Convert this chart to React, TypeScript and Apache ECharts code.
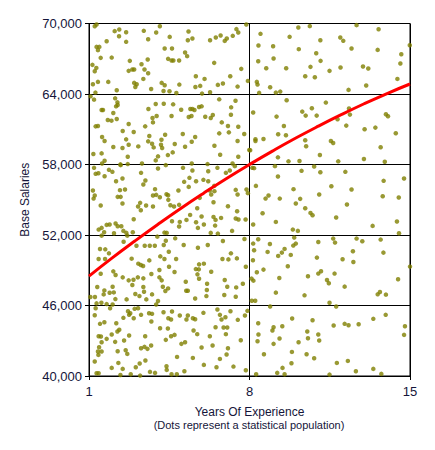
import React, { useEffect, useRef } from "react";
import * as echarts from "echarts";

// Axis ticks
const xTicks = [1, 8, 15];
const yTicks = [40000, 46000, 52000, 58000, 64000, 70000];

// Trend curve
const trendX = [1, 2, 3, 4, 5, 6, 7, 8, 9, 10, 11, 12, 13, 14, 15];
const trendY = [48500, 50030, 51490, 52900, 54260, 55560, 56810, 58000, 59140, 60230, 61260, 62240, 63170, 64040, 64850];

// Population dots: [years, salary], grouped by region of the plot
const dotsLeft70 = [
  [1.25,69770],[1.33,69915],[2.12,69350],[2.32,69490],[2.62,69250],[2.31,68920],[2.62,68440],[1.77,68495],[3.39,69375],[3.58,68665],[3.93,69230],[4.09,69770],[4.52,68860],[5.34,69320],[5.51,68720],[5.31,68580],[6.28,68580],[6.53,68810],[6.74,68980],[6.92,68520],[7.01,68720],[7.27,68950],[7.43,69520],[7.51,69230],[7.86,69915],[1.33,68010],[1.45,68010],[1.39,67730],[1.51,67075],[1.99,67100],[2.78,66820],[3.29,66535],[2.89,66080],[2.97,66080],[2.73,65970],[3.42,66080],[3.58,65770],[3.56,66930],[3.37,65285],[4.30,67870],[4.62,67870],[4.45,66990],[4.60,66850],[4.68,66850],[4.93,66850],[5.19,67530],[5.28,67220],[6.46,66650],[7.64,66140],[1.15,66480],[1.32,66220],[1.25,65940],[1.17,64830],[1.39,65030],[1.84,65030],[2.97,64945],[3.08,64830],[3.02,64600],[2.21,64320],[3.71,64430],[4.17,64945],[4.30,64750],[4.25,64260],[4.51,64235],[4.81,64090],[4.94,64800],[5.66,65510],[6.04,65285],[5.64,64600],[5.85,64690],[6.62,64775],[6.84,64890],[7.16,65510],[7.48,64630],[7.93,65115],[6.28,64150],[5.93,64035],[1.28,64120]
];
const dotsLeft64 = [
  [1.07,63800],[1.22,63520],[2.14,63630],[2.24,63290],[2.18,62950],[2.25,63060],[1.55,62640],[1.61,62640],[2.06,62380],[1.82,61785],[1.98,61730],[2.21,61870],[1.29,61245],[1.39,61275],[2.73,61445],[2.47,60850],[2.95,60760],[2.62,60140],[2.73,59680],[3.15,59540],[2.46,59400],[2.06,59485],[1.57,60340],[1.68,60000],[1.19,58890],[1.55,58945],[1.68,58320],[1.57,58090],[2.69,58660],[2.37,58010],[2.69,58035],[3.31,58090],[3.59,62720],[3.91,63150],[4.26,63175],[4.67,63120],[5.02,62665],[5.42,62720],[5.51,62720],[5.60,62640],[5.80,62890],[5.91,62950],[5.35,62040],[5.47,62125],[6.07,62070],[6.31,61955],[6.40,62210],[6.68,63545],[7.39,63430],[7.20,62865],[7.19,62240],[6.79,61585],[7.06,61275],[7.51,61215],[7.77,60590],[7.10,60735],[6.68,60650],[6.47,59600],[6.72,58830],[7.48,60000],[7.51,58660],[7.26,58090],[7.99,59230],[6.17,58035],[3.77,61955],[3.95,62125],[3.79,61585],[3.45,61245],[4.60,62125],[3.63,60420],[4.32,60535],[4.16,60110],[3.75,59770],[3.58,59970],[3.82,59455],[4.14,59680],[4.19,59400],[4.74,59740],[5.09,60590],[5.19,59510],[5.63,60340],[5.48,59940],[4.44,58800],[4.65,59030],[4.01,58690],[3.91,58350],[5.48,58090]
];
const dotsLeft58 = [
  [1.22,57715],[1.29,57205],[1.41,57260],[1.68,57005],[1.87,57545],[2.02,57375],[2.38,57945],[3.27,57290],[4.01,57660],[4.35,57945],[2.18,56580],[2.46,56810],[3.46,56640],[3.37,56295],[1.17,55785],[1.25,55360],[1.20,55100],[2.35,55815],[2.57,55870],[2.25,55245],[2.38,55245],[2.46,54680],[1.51,54505],[3.23,54735],[3.14,54420],[3.26,54110],[3.49,54505],[3.79,54420],[3.88,55900],[3.79,55360],[3.93,55415],[4.09,55215],[4.38,55470],[4.45,55385],[4.46,54990],[4.55,54535],[4.90,55785],[4.71,54420],[4.93,54565],[5.15,56525],[5.35,56095],[5.38,56865],[5.67,56580],[5.99,56695],[6.20,56580],[5.10,57715],[5.51,57490],[6.20,57430],[6.60,57715],[6.97,57290],[7.14,57490],[7.36,57860],[6.27,55785],[6.46,56180],[6.33,55445],[6.43,54790],[5.83,55160],[6.47,55730],[7.40,55840],[7.48,55445],[7.87,55870],[7.93,55560],[7.46,54025],[7.40,53400],[7.52,53315],[7.83,53315],[7.06,54450],[5.41,53710],[5.72,54280],[6.43,53540],[6.52,53285],[6.76,53455],[5.91,53570],[5.67,53090],[5.75,52605],[6.01,52890],[6.50,52800],[6.31,52180],[6.62,52120],[7.24,52350],[4.62,53170],[4.96,53115],[5.25,53285],[4.93,52720],[4.29,52205],[4.39,52180],[2.95,53345],[1.55,52605],[1.42,52460],[1.66,52235],[1.77,52860],[1.90,52890],[2.16,52975],[2.25,52750],[2.41,52750],[2.09,52150],[2.50,52350],[2.63,52180],[2.91,52235]
];
const dotsLeft52 = [
  [1.55,51945],[2.67,51945],[3.98,51860],[4.76,51715],[4.35,51515],[5.13,51150],[5.75,50920],[6.18,51150],[6.84,51490],[7.78,51660],[1.48,50810],[1.71,50780],[1.87,50440],[1.42,49955],[1.70,49955],[2.51,51430],[3.07,51090],[3.43,51090],[3.65,51090],[3.87,51090],[4.26,51150],[2.86,49985],[3.63,49840],[4.11,50180],[4.29,49955],[4.48,50580],[4.80,49955],[3.15,49560],[3.26,49445],[3.36,49360],[4.07,49020],[4.49,49300],[4.73,48850],[5.80,49500],[6.01,49560],[5.66,49100],[5.79,49075],[6.33,48875],[5.73,48650],[5.80,48280],[6.15,47855],[6.14,47315],[6.12,46800],[5.63,46600],[1.51,48705],[2.06,48905],[2.16,48590],[2.47,48395],[2.73,48140],[2.94,48195],[3.13,48395],[2.89,47740],[3.37,48310],[3.72,48680],[4.07,48395],[4.17,48140],[4.22,47600],[4.45,47455],[4.33,47230],[3.37,47570],[3.40,47170],[1.36,47570],[1.67,47285],[1.64,46945],[2.03,47600],[1.90,47085],[2.08,47115],[2.15,46545],[1.26,46720],[1.06,46720],[1.33,46180],[1.54,46235],[1.77,46120],[2.03,46090],[2.64,46520],[3.02,46975],[3.20,46800],[3.50,46520],[3.75,46945],[4.01,46380],[3.93,46090],[5.22,48025],[5.24,47260],[5.31,47260],[6.82,49955],[7.08,49925],[7.45,50010],[7.19,50440],[7.84,49300],[7.71,47855],[6.92,48165],[7.42,47540],[7.03,47600],[7.40,46745],[6.90,46890]
];
const dotsLeft46 = [
  [1.29,45770],[1.92,45770],[2.70,45515],[2.80,45345],[2.75,45205],[2.99,45715],[3.14,45770],[3.62,45345],[3.75,45290],[4.25,45430],[4.62,45490],[4.46,44920],[4.58,44810],[4.96,45150],[5.31,45150],[5.25,44810],[5.53,44920],[5.63,44835],[5.99,45375],[6.60,45660],[6.71,45205],[6.78,44810],[6.95,45005],[7.17,45515],[7.49,44780],[7.80,45150],[7.91,45545],[1.25,45175],[1.48,44440],[1.67,44580],[2.19,44495],[2.50,44950],[2.95,44920],[3.27,45205],[3.72,44635],[1.42,43385],[1.52,43360],[1.55,42875],[1.77,43160],[1.99,43530],[2.24,43785],[2.32,43930],[2.14,42905],[2.53,43020],[2.75,43445],[3.45,43385],[4.10,44070],[4.44,44040],[4.35,43075],[4.58,43385],[4.73,43500],[5.03,42735],[5.19,42875],[5.56,43870],[5.72,43560],[6.27,43385],[6.52,44155],[6.87,44125],[7.03,44125],[6.97,43560],[7.62,43045],[6.39,42590],[5.91,42420],[7.06,42365],[7.00,41825],[6.71,41455],[1.44,42450],[1.39,42080],[1.55,42080],[1.41,41795],[2.25,42110],[2.60,42195],[2.67,41880],[3.27,42365],[3.42,42480],[3.55,42310],[3.71,42590],[4.84,41625],[5.53,41540],[1.25,41230],[1.99,40690],[2.28,41115],[2.47,40605],[3.04,40745],[3.21,41060],[3.46,41315],[3.66,40350],[3.88,40265],[4.38,40830],[4.39,40520],[4.60,40150],[4.83,40150],[5.16,40405],[6.01,40945],[6.56,40745],[7.30,40800],[7.84,40490],[1.33,40235],[1.42,40235],[2.37,40090],[2.82,40150],[3.23,40035]
];
const dotsRightTop = [
  [8.48,69120],[10.13,69660],[10.63,69775],[12.67,69860],[13.63,69515],[9.75,68865],[11.09,68580],[11.96,68810],[12.09,68525],[8.39,68125],[9.03,68070],[10.15,67815],[10.91,67470],[12.45,67870],[13.59,67755],[14.99,68155],[14.62,67385],[8.38,66790],[9.05,67020],[11.10,66820],[8.73,66195],[9.60,66195],[10.66,66310],[11.97,66250],[12.95,66335],[13.18,66165],[14.58,66590],[10.43,65515],[10.85,65430],[11.49,65970],[14.45,65285],[8.32,65030],[8.35,64800],[8.90,64575],[13.09,64720],[12.32,64350],[8.42,64095],[9.15,64120],[9.34,64205],[9.62,63470],[11.33,63270],[8.16,62420],[10.30,62500],[10.72,62785],[10.45,62160],[10.93,62160],[9.18,62075],[12.34,62760],[12.38,62245],[11.84,61850],[12.22,61310],[13.95,62275],[14.04,62105],[9.50,61280],[9.25,60570],[9.59,60485],[8.26,60145],[8.26,60000],[8.61,60175],[10.43,60060],[10.47,59550],[11.55,60005],[11.65,59835],[13.02,60995],[13.49,61140],[14.38,60655],[13.72,59465],[8.03,59210],[11.07,58810],[9.24,58610],[9.70,58270],[10.18,58300],[11.87,58270],[12.99,58470],[13.90,58240]
];
const dotsRightMid = [
  [8.12,57715],[8.20,57690],[9.11,57860],[10.27,57460],[10.82,57830],[11.09,57345],[12.18,57375],[9.24,56980],[8.28,56180],[9.92,55900],[11.57,56155],[12.45,55870],[13.85,56610],[14.74,56810],[8.83,55360],[8.70,55100],[9.32,55100],[10.21,55075],[11.04,55445],[10.02,54680],[10.43,54280],[10.66,53880],[10.75,53680],[12.25,54590],[13.81,55300],[14.51,55190],[8.57,53855],[11.78,53485],[8.16,52890],[9.15,53115],[9.89,52460],[10.11,52350],[13.37,52775],[14.43,53145],[14.52,52150],[8.38,51640],[9.95,51780],[8.16,51270],[8.89,51240],[10.02,51270],[9.91,51100],[11.00,51410],[11.65,51695],[11.73,51355],[12.67,51695],[12.92,51470],[13.72,51610],[13.84,50500],[8.20,50700],[8.79,50560],[9.53,50815],[9.41,50500],[9.25,50220],[9.80,50305],[10.94,50075],[12.06,49935],[12.51,50615],[12.53,49705],[8.15,49850],[8.61,49055],[8.32,48825],[9.67,49340],[9.30,48345],[10.55,48485],[11.00,48715],[11.12,48910],[11.71,48715],[11.38,48175],[11.46,47890],[12.15,47605],[15.00,49310],[14.48,48230],[8.09,48290],[8.17,48115],[9.15,47095],[10.40,46865],[13.59,46950],[13.69,47150],[13.95,46925],[11.49,46240],[8.10,46410],[8.25,46410]
];
const dotsRightLow = [
  [8.90,45915],[11.78,45915],[8.38,44495],[9.05,44155],[9.00,43870],[9.43,44240],[9.86,44890],[10.75,44750],[10.52,43785],[10.55,43215],[11.00,43530],[11.04,43020],[11.67,44295],[12.15,44440],[12.32,44325],[12.76,44410],[13.40,44865],[13.94,45205],[14.78,44240],[14.74,43500],[8.39,43530],[8.35,42960],[9.31,43190],[9.05,42735],[10.14,42875],[9.85,42050],[8.63,41855],[10.49,41855],[10.82,41515],[9.83,41085],[9.44,40690],[9.21,40265],[9.53,40150],[8.29,40150],[11.81,41115],[12.29,41285],[11.49,40120],[12.64,40405],[13.40,40605],[13.75,40180]
];

const FONT = "'Liberation Sans', Arial, sans-serif";
const TEXT = "#15153a";

export default function App() {
  const ref = useRef<HTMLDivElement>(null);
  useEffect(() => {
    if (!ref.current) return;
    const chart = echarts.init(ref.current, null, { renderer: "svg" });
    const dots = [
      ...dotsLeft70, ...dotsLeft64, ...dotsLeft58, ...dotsLeft52, ...dotsLeft46,
      ...dotsRightTop, ...dotsRightMid, ...dotsRightLow,
    ];
    const trend = trendX.map((x, i) => [x, trendY[i]]);
    chart.setOption({
      animation: false,
      backgroundColor: "#ffffff",
      grid: {
        left: 89, right: 25, top: 23.5, bottom: 74,
        show: true, borderColor: "#000", borderWidth: 1,
        containLabel: false, outerBoundsMode: "none",
      },
      xAxis: {
        type: "value", min: 1, max: 15,
        axisLine: { show: true, onZero: false, lineStyle: { color: "#000", width: 1 } },
        axisTick: { show: true, customValues: xTicks, length: 4, lineStyle: { color: "#000" } },
        axisLabel: { customValues: xTicks, fontSize: 13, color: TEXT, margin: 9, fontFamily: FONT },
        splitLine: { show: true, lineStyle: { color: "#000", width: 1 } },
      },
      yAxis: {
        type: "value", min: 40000, max: 70000,
        name: "Base Salaries", nameLocation: "middle", nameGap: 58, nameRotate: 90,
        nameTextStyle: { fontSize: 12, color: TEXT, fontFamily: FONT },
        axisLine: { show: true, lineStyle: { color: "#000", width: 1 } },
        axisTick: { show: true, customValues: yTicks, length: 4, lineStyle: { color: "#000" } },
        axisLabel: {
          customValues: yTicks, fontSize: 13, color: TEXT, margin: 7, fontFamily: FONT,
          formatter: (v: number) => v.toLocaleString("en-US"),
        },
        splitLine: { show: true, lineStyle: { color: "#000", width: 1 } },
      },
      graphic: [
        {
          type: "text", x: 249.5, y: 412,
          style: {
            text: "Years Of Experience", font: `12px ${FONT}`, fill: TEXT,
            textAlign: "center", textVerticalAlign: "middle",
          },
        },
        {
          type: "text", x: 249, y: 425,
          style: {
            text: "(Dots represent a statistical population)", font: `11px ${FONT}`, fill: TEXT,
            textAlign: "center", textVerticalAlign: "middle",
          },
        },
      ],
      series: [
        {
          type: "scatter", data: dots, symbol: "circle", symbolSize: 4.5,
          itemStyle: { color: "#808000" }, z: 2, silent: true,
        },
        {
          type: "line", data: trend, smooth: true, showSymbol: false, symbol: "none",
          lineStyle: { color: "#ff0000", width: 3 }, z: 3, silent: true,
        },
      ],
    });
    return () => chart.dispose();
  }, []);
  return (
    <div
      ref={ref}
      style={{ position: "absolute", left: 0, top: 0, width: 435, height: 450 }}
    />
  );
}
